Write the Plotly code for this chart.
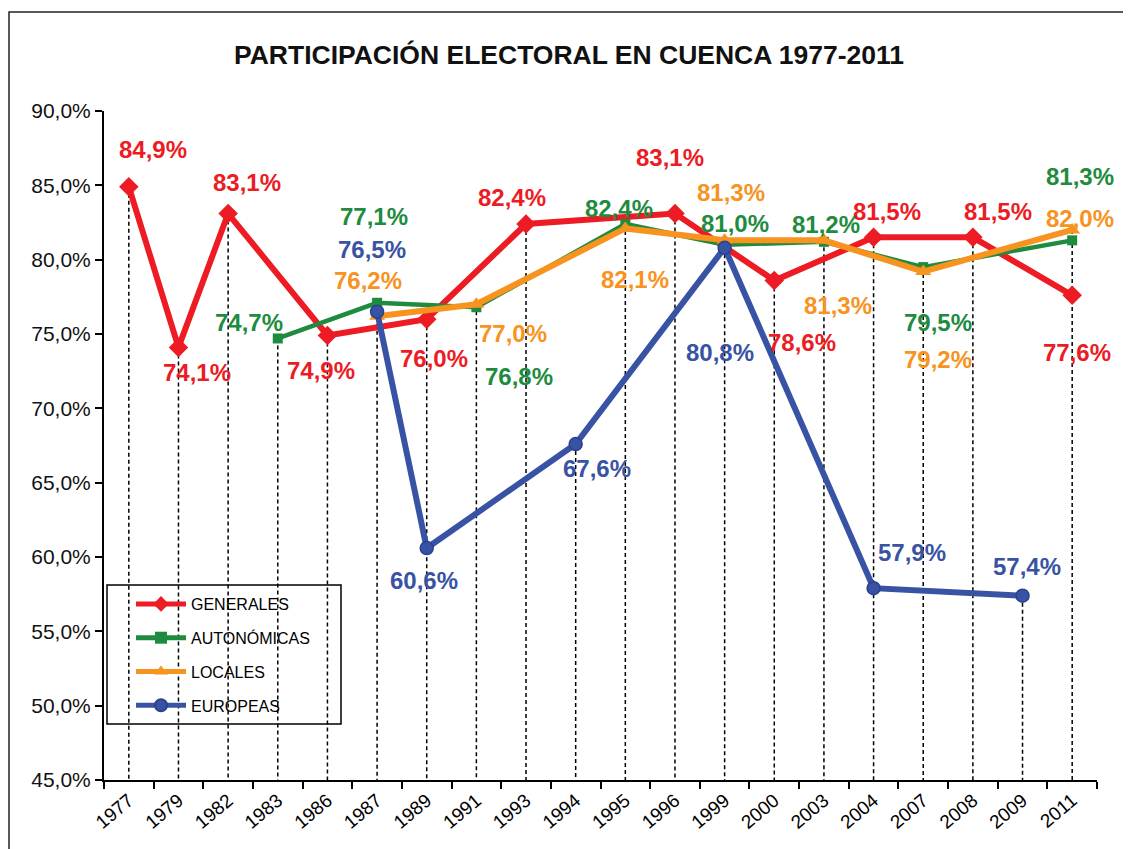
import plotly.graph_objects as go

# ---------------- data ----------------
years = ["1977", "1979", "1982", "1983", "1986", "1987", "1989", "1991", "1993", "1994",
         "1995", "1996", "1999", "2000", "2003", "2004", "2007", "2008", "2009", "2011"]

generales   = [84.9, 74.1, 83.1, None, 74.9, None, 76.0, None, 82.4, None,
               None, 83.1, None, 78.6, None, 81.5, None, 81.5, None, 77.6]
autonomicas = [None, None, None, 74.7, None, 77.1, None, 76.8, None, None,
               82.4, None, 81.0, None, 81.2, None, 79.5, None, None, 81.3]
locales     = [None, None, None, None, None, 76.2, None, 77.0, None, None,
               82.1, None, 81.3, None, 81.3, None, 79.2, None, None, 82.0]
europeas    = [None, None, None, None, None, 76.5, 60.6, None, None, 67.6,
               None, None, 80.8, None, None, 57.9, None, None, 57.4, None]

series_names = ["GENERALES", "AUTONÓMICAS", "LOCALES", "EUROPEAS"]
y_ticks = [45, 50, 55, 60, 65, 70, 75, 80, 85, 90]
y_ticktext = [f"{v:.1f}%".replace(".", ",") for v in y_ticks]

# ---------------- styles ----------------
colors = ["#ED1C24", "#1E8B3E", "#F7931E", "#3953A4"]
symbols = ["diamond", "square", "triangle-up", "circle"]
msizes = [15, 10, 14, 13]
lwidths = [6, 4.5, 6, 6]

# label offsets (px) per non-null point: (dx, dy) with dy positive = downward
label_offsets = [
    [(24, -37), (19, 25), (19, -31), (-6, 35), (7, 39), (-14, -26), (-5, -56),
     (28, 62), (13, -26), (25, -26), (5, 57)],
    [(-29, -16), (-3, -86), (43, 69), (-6, -15), (10, -21), (2, -17), (15, 55), (8, -64)],
    [(-9, -36), (37, 29), (10, 51), (6, -48), (14, 65), (15, 88), (8, -11)],
    [(-5, -62), (-3, 32), (21, 24), (-5, 105), (38, -36), (4, -29)],
]

all_series = [generales, autonomicas, locales, europeas]

# page body has an 8px margin: figure geometry compensates for it
W, H = 1123, 841
PL, PT, PR, PB = 104, 111, 1097, 780   # plot area in page pixels
pw, ph = PR - PL, PB - PT


def px(xp):
    return (xp - PL) / pw


def py(yp):
    return (PB - yp) / ph


fig = go.Figure()

# drop lines from the highest point of each category down to the axis
drop_x, drop_y = [], []
for i, yr in enumerate(years):
    vals = [s[i] for s in all_series if s[i] is not None]
    if vals:
        drop_x += [yr, yr, None]
        drop_y += [max(vals), y_ticks[0], None]
fig.add_trace(go.Scatter(x=drop_x, y=drop_y, mode="lines",
                         line=dict(color="black", width=1.5, dash="4px,3px"),
                         showlegend=False, hoverinfo="skip"))

for k, (name, s) in enumerate(zip(series_names, all_series)):
    mline = dict(width=1.5, color="#2A4190") if k == 3 else dict(width=0)
    fig.add_trace(go.Scatter(
        x=years, y=s, name=name, mode="lines+markers", connectgaps=True,
        line=dict(color=colors[k], width=lwidths[k]),
        marker=dict(symbol=symbols[k], size=msizes[k], color=colors[k], line=mline),
        legendgroup=name,
    ))
    j = 0
    for i, v in enumerate(s):
        if v is None:
            continue
        dx, dy = label_offsets[k][j]
        j += 1
        fig.add_annotation(x=i, y=v, xref="x", yref="y",
                           text="<b>" + f"{v:.1f}%".replace(".", ",") + "</b>",
                           showarrow=False, xshift=dx, yshift=-dy,
                           font=dict(family="Liberation Sans, Arial", size=24,
                                     color=colors[k]))

# legend box
fig.add_shape(type="rect", xref="paper", yref="paper",
              x0=px(107), x1=px(341), y0=py(724), y1=py(585),
              line=dict(color="black", width=1.5), fillcolor="white", layer="below")
# outer frame
fig.add_shape(type="rect", xref="paper", yref="paper",
              x0=px(9), x1=px(1160), y0=py(880), y1=py(12),
              line=dict(color="#222", width=1.5), fillcolor="rgba(0,0,0,0)")

fig.update_layout(
    width=W, height=H,
    margin=dict(l=PL - 8, r=W - (PR - 8), t=PT - 8, b=H - (PB - 8), autoexpand=False),
    paper_bgcolor="white", plot_bgcolor="white",
    font=dict(family="Liberation Sans, Arial", color="black"),
    title=dict(text="<b>PARTICIPACIÓN ELECTORAL EN CUENCA 1977-2011</b>",
               x=(569 - 8) / W, xanchor="center", y=1 - (55 - 8) / H, yanchor="middle",
               font=dict(size=26.5, color="#111")),
    showlegend=True,
    legend=dict(x=px(131), y=py(587), xanchor="left", yanchor="top",
                bgcolor="rgba(0,0,0,0)", borderwidth=0, tracegroupgap=10,
                itemwidth=50, itemsizing="constant",
                font=dict(size=16, color="black")),
    xaxis=dict(type="category", categoryorder="array", categoryarray=years,
               range=[-0.5, len(years) - 0.5], tickson="boundaries",
               ticks="outside", ticklen=7, tickwidth=1.5, tickcolor="black",
               showline=True, linecolor="black", linewidth=2, showgrid=False,
               tickangle=-40, tickfont=dict(size=19, color="black"), zeroline=False),
    yaxis=dict(range=[45, 90], tickvals=y_ticks, ticktext=y_ticktext,
               ticks="outside", ticklen=7, tickwidth=1.5, tickcolor="black",
               showline=True, linecolor="black", linewidth=2, showgrid=False,
               zeroline=False, tickfont=dict(size=21, color="#111")),
)

fig.write_html("out.html")
